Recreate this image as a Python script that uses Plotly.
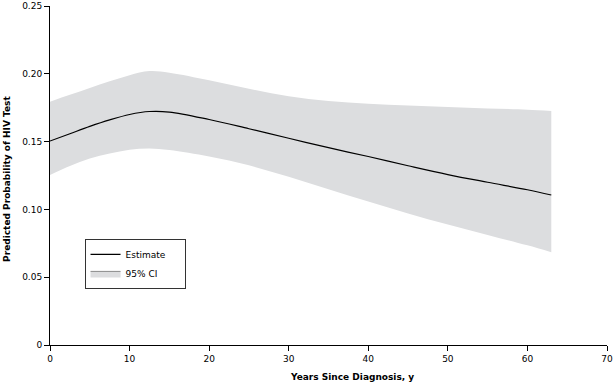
import plotly.graph_objects as go

years = [0, 2.5, 5, 7.5, 10, 12.5, 15, 20, 25, 30, 35, 40, 45, 50, 55, 60, 63]
estimate = [0.1504, 0.1558, 0.1612, 0.1660, 0.1700, 0.1722, 0.1718, 0.1663, 0.1595,
            0.1525, 0.1455, 0.1390, 0.1322, 0.1257, 0.1200, 0.1145, 0.1106]
ci_upper = [0.1794, 0.1845, 0.1895, 0.1945, 0.1990, 0.2020, 0.2008, 0.1952, 0.1890,
            0.1835, 0.1800, 0.1780, 0.1767, 0.1755, 0.1745, 0.1735, 0.1726]
ci_lower = [0.1254, 0.1320, 0.1375, 0.1412, 0.1440, 0.1450, 0.1438, 0.1390, 0.1325,
            0.1240, 0.1148, 0.1058, 0.0970, 0.0888, 0.0812, 0.0735, 0.0684]

x_ticks = [0, 10, 20, 30, 40, 50, 60, 70]
y_ticks = [0, 0.05, 0.10, 0.15, 0.20, 0.25]
y_tick_labels = ["0", "0.05", "0.10", "0.15", "0.20", "0.25"]

FONT = "Verdana, DejaVu Sans, sans-serif"
BAND = "#dcdddf"
PAD = "<span style='color:white'>___</span>"

fig = go.Figure()
fig.add_trace(go.Scatter(x=years, y=ci_lower, mode="lines", line=dict(width=0, shape="spline"),
                         showlegend=False, hoverinfo="skip"))
fig.add_trace(go.Scatter(x=years, y=ci_upper, mode="lines", line=dict(width=0, shape="spline"),
                         fill="tonexty", fillcolor=BAND, showlegend=False, hoverinfo="skip"))
fig.add_trace(go.Scatter(x=years, y=estimate, mode="lines", name="Estimate" + PAD,
                         line=dict(color="black", width=1.2, shape="spline")))
fig.add_trace(go.Scatter(x=[None], y=[None], mode="lines", name="95% CI", fill="toself",
                         fillcolor=BAND, line=dict(color="#8a8a8a", width=1)))

axis_common = dict(showline=True, linecolor="black", linewidth=1, ticks="outside",
                   ticklen=5, tickcolor="black", showgrid=False, zeroline=False,
                   automargin=False,
                   tickfont=dict(family=FONT, size=9, color="black"))

fig.update_xaxes(range=[0, 70], tickvals=x_ticks, **axis_common)
fig.update_yaxes(range=[0, 0.25], tickvals=y_ticks, ticktext=y_tick_labels, **axis_common)

fig.update_layout(
    width=614, height=385,
    margin=dict(l=50, r=7, t=6, b=40),
    plot_bgcolor="white", paper_bgcolor="white",
    font=dict(family=FONT, size=9, color="black"),
    legend=dict(x=0.062, y=0.313, xanchor="left", yanchor="top",
                bgcolor="white", bordercolor="#333333", borderwidth=1,
                font=dict(family=FONT, size=9, color="black"),
                traceorder="normal"),
    annotations=[
        dict(text="<b>Years Since Diagnosis, y</b>", xref="paper", yref="paper",
             x=0.542, y=0, yshift=-39, xanchor="center", yanchor="bottom",
             showarrow=False, font=dict(family=FONT, size=9, color="black")),
        dict(text="<b>Predicted Probability of HIV Test</b>", xref="paper", yref="paper",
             x=0, xshift=-43, y=0.49, xanchor="center", yanchor="middle",
             textangle=-90, showarrow=False,
             font=dict(family=FONT, size=9, color="black")),
    ],
)

fig.write_html("out.html", config={"displayModeBar": False},
               post_script="document.body.style.margin='0';")
